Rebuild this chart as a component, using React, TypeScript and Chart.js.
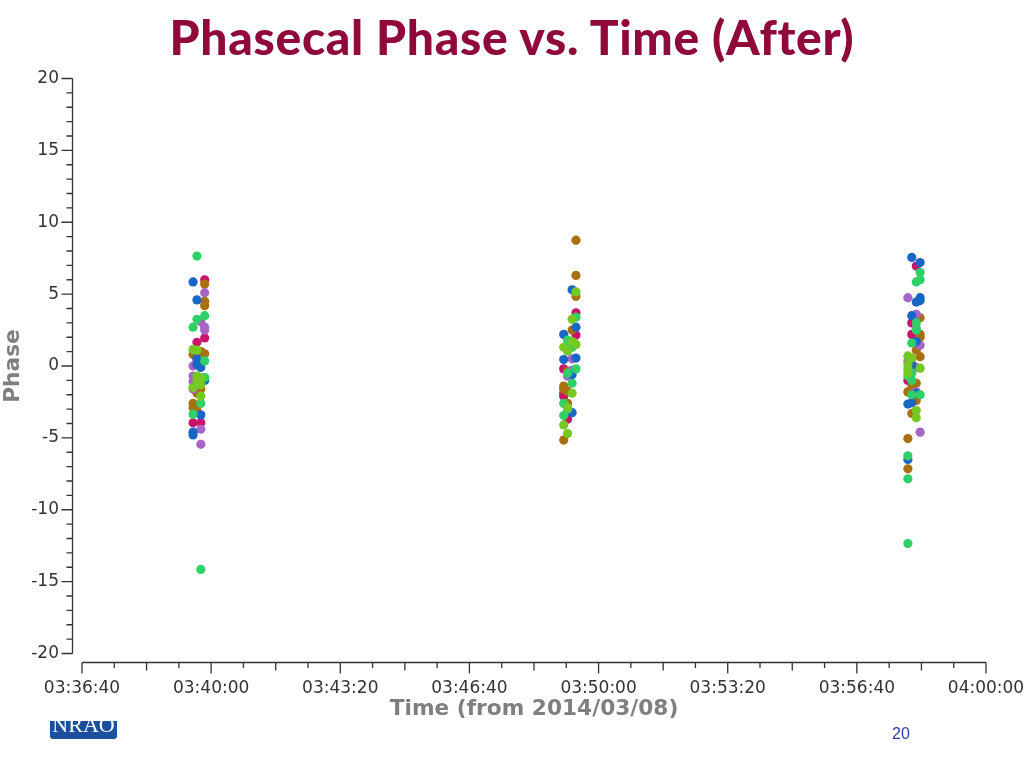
import React, { useEffect, useRef } from "react";
import { Chart, registerables } from "chart.js";

Chart.register(...registerables);

// [time in seconds of the day, phase]
const green: number[][] = [
  [13178, 7.65], [13190, 3.5], [13178, 3.25], [13172, 2.7], [13190, 0.35], [13190, -0.8], [13184, -0.9], [13184, -2.6], [13172, -3.35], [13184, -14.15],
  [13765, 3.4], [13752, 1.8], [13752, 1.4], [13759, 1.3], [13765, -0.2], [13752, -0.5], [13759, -1.2], [13746, -2.6], [13752, -3.0], [13746, -3.45],
  [14298, 6.5], [14298, 6.0], [14292, 5.85], [14292, 3.0], [14292, 2.5], [14285, 1.6], [14279, -0.7], [14285, -0.5], [14285, -1.0], [14285, -2.0], [14298, -2.0], [14279, -6.25], [14279, -7.85], [14279, -12.35],
];
const blue: number[][] = [
  [13172, 5.85], [13178, 4.6], [13178, 0.5], [13178, 0.1], [13184, -0.1], [13190, -1.0], [13184, -3.4], [13172, -4.6], [13172, -4.8],
  [13759, 5.3], [13765, 2.7], [13746, 2.2], [13746, 0.45], [13765, 0.55], [13759, -0.6], [13759, -3.25],
  [14285, 7.55], [14298, 7.2], [14298, 4.75], [14292, 4.45], [14298, 4.55], [14285, 3.5], [14285, 0.05], [14279, -6.5], [14279, -2.65], [14285, -2.55], [14292, 1.7], [14292, -1.9],
];
const magenta: number[][] = [
  [13190, 6.0], [13190, 1.95], [13178, 1.65], [13172, -3.95], [13184, -3.95],
  [13765, 3.7], [13765, 2.15], [13746, -0.2], [13746, -2.1], [13746, -1.9], [13752, -3.7],
  [14292, 6.95], [14285, 3.0], [14285, 2.2], [14279, -1.0],
];
const purple: number[][] = [
  [13190, 5.1], [13184, 3.07], [13190, 2.7], [13190, 2.5], [13178, 0.4], [13172, 0.0], [13172, -0.7], [13172, -1.1], [13172, -1.6], [13184, -4.4], [13184, -5.45],
  [13759, 0.5], [13759, -0.3], [13752, -0.7],
  [14279, 4.75], [14292, 3.6], [14292, 2.6], [14298, 1.45], [14279, 0.35], [14285, 0.2], [14292, -0.1], [14292, -1.8], [14298, -4.6],
];
const brown: number[][] = [
  [13190, 5.7], [13190, 4.5], [13190, 4.2], [13184, 1.0], [13190, 0.85], [13172, 0.8], [13178, -1.5], [13184, -1.6], [13178, -1.9], [13172, -2.6], [13172, -2.9], [13178, -3.1],
  [13765, 8.75], [13765, 6.3], [13765, 4.85], [13759, 2.5], [13752, -0.35], [13746, -1.4], [13746, -1.6], [13752, -1.75], [13752, -2.6], [13746, -5.15],
  [14298, 3.35], [14298, 2.2], [14298, 2.0], [14292, 1.1], [14298, 0.65], [14292, -1.2], [14285, -1.5], [14279, -1.8], [14292, -2.4], [14285, -3.3], [14279, -5.05], [14279, -7.15],
];
const olive: number[][] = [
  [13172, 1.15], [13178, 1.1], [13184, -0.8], [13178, -0.7], [13178, -1.0], [13184, -1.3], [13172, -1.5], [13184, -2.1],
  [13765, 5.15], [13759, 3.25], [13759, 1.7], [13765, 1.5], [13746, 1.3], [13752, 1.05], [13759, -1.9], [13752, -2.9], [13746, -4.1], [13752, -4.7],
  [14279, 0.7], [14285, 0.55], [14279, 0.1], [14298, -0.15], [14279, -0.2], [14279, -0.5], [14292, -3.1], [14292, -3.6],
];

const seriesList = [
  { name: "olive", points: olive, color: "#76c822" },
  { name: "green", points: green, color: "#2fd068" },
  { name: "blue", points: blue, color: "#1a66c4" },
  { name: "purple", points: purple, color: "#a566c6" },
  { name: "brown", points: brown, color: "#a8700f" },
  { name: "magenta", points: magenta, color: "#c8146a" },
];

const timeMin = 13000;
const timeMax = 14400;
const phaseMin = -20;
const phaseMax = 20;
const inkColor = "#333333";

function clock(sec: number) {
  const p = (n: number) => String(n).padStart(2, "0");
  return p(Math.floor(sec / 3600)) + ":" + p(Math.floor(sec / 60) % 60) + ":" + p(sec % 60);
}

// the axes sit away from the plot area, so chart.js's own border can't do it
const detachedAxes = {
  id: "detachedAxes",
  afterDraw(chart: any) {
    const { ctx, scales } = chart;
    const xLine = 662.5;
    const yLine = 72.5;
    ctx.save();
    ctx.strokeStyle = inkColor;
    ctx.lineWidth = 1.3;
    ctx.beginPath();
    ctx.moveTo(scales.x.left, xLine);
    ctx.lineTo(scales.x.right, xLine);
    scales.x.ticks.forEach((t: any, i: number) => {
      const px = scales.x.getPixelForTick(i);
      const step = (t.value - timeMin) % 200;
      const len = step === 0 ? 11 : step === 100 ? 8 : 5.5;
      ctx.moveTo(px, xLine);
      ctx.lineTo(px, xLine + len);
    });
    ctx.moveTo(yLine, scales.y.top);
    ctx.lineTo(yLine, scales.y.bottom);
    scales.y.ticks.forEach((t: any, i: number) => {
      const py = scales.y.getPixelForTick(i);
      const len = t.value % 5 === 0 ? 11 : 6;
      ctx.moveTo(yLine, py);
      ctx.lineTo(yLine - len, py);
    });
    ctx.stroke();
    ctx.restore();
  },
};

const App = () => {
  const canvasRef = useRef<HTMLCanvasElement>(null);

  useEffect(() => {
    document.body.style.margin = "0";
    document.body.style.background = "#fff";
    if (!canvasRef.current) return;
    const chart = new Chart(canvasRef.current, {
      type: "scatter",
      data: {
        datasets: seriesList.map((s) => ({
          label: s.name,
          data: s.points.map((p) => ({ x: p[0], y: p[1] })),
          backgroundColor: s.color,
          borderWidth: 0,
          pointRadius: 4.6,
          pointHoverRadius: 4.6,
        })),
      },
      options: {
        responsive: false,
        animation: false,
        devicePixelRatio: 1,
        layout: { padding: { top: 78.5, right: 38, bottom: 0, left: 0 } },
        plugins: { legend: { display: false }, tooltip: { enabled: false }, title: { display: false } },
        scales: {
          x: {
            type: "linear",
            min: timeMin,
            max: timeMax,
            afterFit: (s: any) => {
              s.height = 114.5;
              s.paddingLeft = 0;
              s.paddingRight = 0;
            },
            grid: { display: false, drawTicks: false },
            border: { display: false },
            ticks: {
              stepSize: 50,
              autoSkip: false,
              maxRotation: 0,
              padding: 25,
              color: inkColor,
              font: { family: "DejaVu Sans", size: 17 },
              callback: (v: any) => ((v - timeMin) % 200 === 0 ? clock(v) : ""),
            },
            title: {
              display: true,
              text: "Time (from 2014/03/08)",
              color: "#7f7f7f",
              font: { family: "DejaVu Sans", size: 21.7, weight: "bold" },
              padding: { top: 0, bottom: 46 },
            },
          },
          y: {
            min: phaseMin,
            max: phaseMax,
            afterFit: (s: any) => {
              s.width = 82;
              s.paddingTop = 0;
              s.paddingBottom = 0;
            },
            grid: { display: false, drawTicks: false },
            border: { display: false },
            ticks: {
              stepSize: 1,
              autoSkip: false,
              padding: 23,
              color: inkColor,
              font: { family: "DejaVu Sans", size: 17 },
              callback: (v: any) => (v % 5 === 0 ? String(v) : ""),
            },
            title: {
              display: true,
              text: "Phase",
              color: "#7f7f7f",
              font: { family: "DejaVu Sans", size: 21.7, weight: "bold" },
              padding: 0,
            },
          },
        },
      } as any,
      plugins: [detachedAxes],
    });
    return () => chart.destroy();
  }, []);

  return (
    <div style={{ position: "relative", width: 1024, height: 768, overflow: "hidden", background: "#fff" }}>
      <canvas ref={canvasRef} width={1024} height={768} style={{ display: "block" }} />
      <div
        style={{
          position: "absolute",
          left: 0,
          top: 8,
          width: 1024,
          textAlign: "center",
          fontFamily: "Lato",
          fontWeight: 900,
          fontSize: 48,
          letterSpacing: 0.7,
          lineHeight: "58px",
          color: "#8f0a3a",
        }}
      >
        Phasecal Phase vs. Time (After)
      </div>
      <div
        style={{
          position: "absolute",
          left: 50,
          top: 721,
          width: 67,
          height: 18,
          background: "#1c4f9c",
          borderRadius: "0 0 3px 3px",
          overflow: "hidden",
          color: "#fff",
          textAlign: "center",
          fontFamily: "Liberation Serif",
          fontSize: 22,
          lineHeight: "22px",
        }}
      >
        <div style={{ marginTop: -7 }}>NRAO</div>
      </div>
      <div
        style={{
          position: "absolute",
          left: 892,
          top: 725,
          fontFamily: "Liberation Sans",
          fontSize: 16,
          lineHeight: "18px",
          color: "#2a3fa0",
        }}
      >
        20
      </div>
    </div>
  );
};

export default App;
